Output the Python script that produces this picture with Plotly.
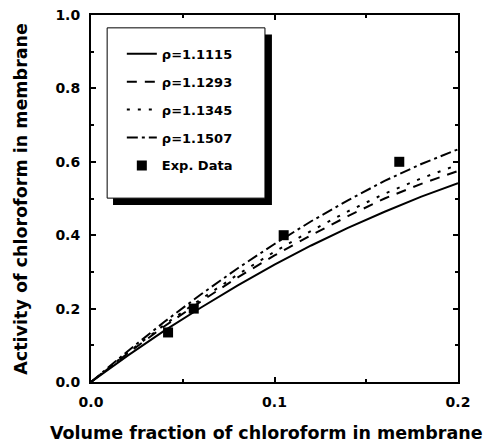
import plotly.graph_objects as go

# Model curves
x_model = [0.0, 0.02, 0.04, 0.06, 0.08, 0.10, 0.12, 0.14, 0.16, 0.18, 0.20]
a_11115 = [0.0, 0.072, 0.140, 0.203, 0.263, 0.320, 0.372, 0.420, 0.464, 0.505, 0.542]
a_11293 = [0.0, 0.078, 0.152, 0.220, 0.285, 0.345, 0.400, 0.452, 0.500, 0.540, 0.575]
a_11345 = [0.0, 0.080, 0.156, 0.226, 0.293, 0.355, 0.412, 0.465, 0.513, 0.555, 0.592]
a_11507 = [0.0, 0.084, 0.164, 0.239, 0.310, 0.376, 0.438, 0.495, 0.548, 0.594, 0.634]

# Experimental points
x_exp = [0.042, 0.056, 0.105, 0.168]
a_exp = [0.135, 0.200, 0.400, 0.600]

FONT = "DejaVu Sans"

series = [
    ("ρ=1.1115", a_11115, "solid"),
    ("ρ=1.1293", a_11293, "10px,8px"),
    ("ρ=1.1345", a_11345, "3px,8px"),
    ("ρ=1.1507", a_11507, "11px,4px,3px,4px"),
]

fig = go.Figure()
for i, (name, ys, dash) in enumerate(series):
    fig.add_trace(go.Scatter(
        x=x_model, y=ys, name=name, mode="lines",
        line=dict(color="black", width=2, dash=dash),
        legendgroup=str(i),
    ))

fig.add_trace(go.Scatter(
    x=x_exp, y=a_exp, name="Exp. Data", mode="markers",
    marker=dict(symbol="square", size=10, color="black"),
    legendgroup="exp",
))

# legend box with a drop shadow
fig.add_shape(type="rect", xref="paper", yref="paper",
              x0=0.060, x1=0.493, y0=0.482, y1=0.947,
              fillcolor="black", line=dict(width=0), layer="below")
fig.add_shape(type="rect", xref="paper", yref="paper",
              x0=0.044, x1=0.474, y0=0.501, y1=0.965,
              fillcolor="white", line=dict(color="black", width=1), layer="below")

axis_common = dict(
    showline=True, linecolor="black", linewidth=2, mirror="allticks",
    ticks="inside", ticklen=5, tickwidth=2, tickcolor="black",
    showgrid=False, zeroline=False, automargin=False,
    ticklabelstandoff=6,
    tickfont=dict(family=FONT, size=14, color="black", weight="bold"),
)

fig.update_xaxes(
    range=[0, 0.2], dtick=0.1, tickformat=".1f",
    minor=dict(dtick=0.05, ticks="inside", ticklen=3, tickwidth=2, tickcolor="black"),
    **axis_common,
)
fig.update_yaxes(
    range=[0, 1.0], dtick=0.2, tickformat=".1f",
    minor=dict(dtick=0.1, ticks="inside", ticklen=3, tickwidth=2, tickcolor="black"),
    **axis_common,
)

title_font = dict(family=FONT, size=17.5, color="black", weight="bold")
fig.add_annotation(text="Volume fraction of chloroform in membrane",
                   xref="paper", yref="paper", x=0.477, y=-0.139,
                   xanchor="center", yanchor="middle", showarrow=False,
                   font=title_font)
fig.add_annotation(text="Activity of chloroform in membrane",
                   xref="paper", yref="paper", x=-0.193, y=0.5,
                   xanchor="center", yanchor="middle", showarrow=False,
                   textangle=-90, font=title_font)

fig.update_layout(
    width=500, height=447,
    margin=dict(l=91, r=42, t=15, b=65),
    plot_bgcolor="white", paper_bgcolor="white",
    showlegend=True,
    legend=dict(
        x=0.084, y=0.935, xanchor="left", yanchor="top",
        bgcolor="rgba(0,0,0,0)", borderwidth=0,
        tracegroupgap=8,
        font=dict(family=FONT, size=13, color="black", weight="bold"),
    ),
)

# drop the default page margin so the figure sits at the window's corner
fig.write_html("out.html", config={"displayModeBar": False},
               post_script="document.body.style.margin = '0';")
